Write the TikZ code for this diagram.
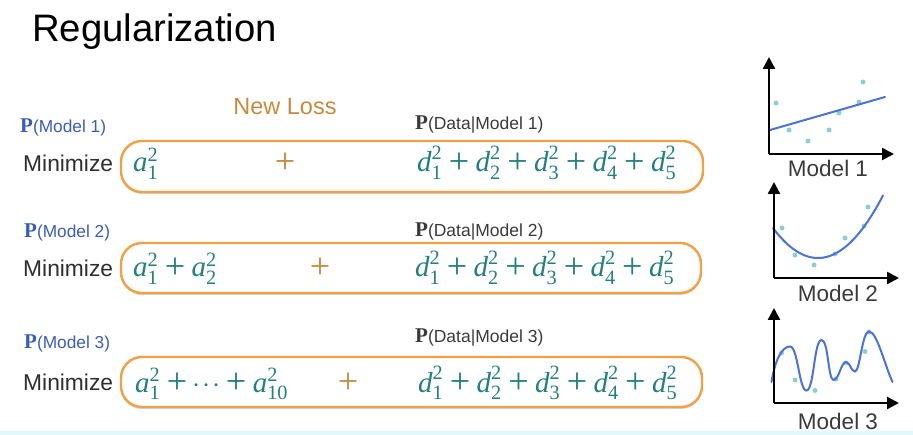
\RequirePackage{fix-cm}
\documentclass[tikz,border=0pt]{standalone}
\usepackage{amsmath}
\usepackage{graphicx}
\usepackage{fontspec}
\setsansfont{Liberation Sans}
\newfontfamily\tms{Liberation Serif}
\usetikzlibrary{arrows.meta,shadows}

\definecolor{inkgray}{HTML}{2E2E2E}
\definecolor{labgray}{HTML}{3A3A3A}
\definecolor{tealmath}{HTML}{23807C}
\definecolor{lossorange}{HTML}{F0A045}
\definecolor{lossbrown}{HTML}{C8893D}
\definecolor{priorblue}{HTML}{3C5DB5}
\definecolor{fitblue}{HTML}{4A72DA}
\definecolor{dotteal}{HTML}{8CCFD0}
\definecolor{bandcyan}{HTML}{E3F8FB}

% italic serif letter with sub- and superscript, enlarged serif plus sign
\newcommand{\sqterm}[2]{\text{\itshape #1}_{\text{#2}}^{\text{2}}}
\newcommand{\bigplus}{\raisebox{-0.06em}{\scalebox{1.25}{+}}}
\newcommand{\pl}{\mathbin{\text{\bigplus}}}
\newcommand{\dsum}{$\sqterm{d}{1}\pl\sqterm{d}{2}\pl\sqterm{d}{3}\pl\sqterm{d}{4}\pl\sqterm{d}{5}$}
\newcommand{\bigP}{{\tms\fontsize{21}{24}\selectfont\bfseries P}}

\tikzset{
  txt/.style={inner sep=0pt, anchor=base west, font=\sffamily\fontsize{22.8}{26}\selectfont, text=inkgray},
  prior/.style={inner sep=0pt, anchor=base west, font=\sffamily\fontsize{17.3}{20}\selectfont, text=priorblue},
  likeli/.style={inner sep=0pt, anchor=base west, font=\sffamily\fontsize{17.5}{20}\selectfont, text=labgray},
  mathterm/.style={inner sep=0pt, anchor=base west, font=\tms\fontsize{29}{33}\selectfont, text=tealmath},
  plusop/.style={inner sep=0pt, anchor=base, font=\tms\fontsize{29}{33}\selectfont, text=lossbrown},
  lossbox/.style={draw=lossorange, line width=2.4pt, rounded corners=21pt, fill=white,
    drop shadow={shadow xshift=0pt, shadow yshift=-2pt, opacity=0.18, fill=black}},
  axis/.style={line width=2.4pt, -{Triangle[width=12pt,length=12pt]}},
  fit/.style={draw=fitblue, line width=2pt, line cap=round},
  datum/.style={circle, fill=dotteal, inner sep=0pt, minimum size=5pt},
  plotlab/.style={inner sep=0pt, anchor=base, font=\sffamily\fontsize{22.5}{26}\selectfont, text=labgray},
}

\begin{document}
\begin{tikzpicture}[x=1pt,y=-1pt]
\useasboundingbox (0,0) rectangle (913,435);
\fill[bandcyan] (0,431) rectangle (913,435);

% title
\node[txt, font=\sffamily\fontsize{38.3}{44}\selectfont, text=black] (title) at (32,42) {Regularization};
\node[inner sep=0pt, anchor=base, font=\sffamily\fontsize{23.5}{27}\selectfont, text=lossbrown] (newloss) at (285,115) {New Loss};

% loss boxes
\draw[lossbox] (121,141) rectangle (703,192);
\draw[lossbox] (121,243) rectangle (701,293);
\draw[lossbox] (121,357) rectangle (702,407);

% row 1
\node[prior] (prior1) at (20,133) {\bigP(Model 1)};
\node[likeli] (like1) at (415,130) {\bigP(Data|Model 1)};
\node[txt] (min1) at (23,172) {Minimize};
\node[mathterm] (reg1) at (133,172) {$\sqterm{a}{1}$};
\node[plusop] (plus1) at (285,172) {\bigplus};
\node[mathterm] (data1) at (417,172) {\dsum};

% row 2
\node[prior] (prior2) at (24,238) {\bigP(Model 2)};
\node[likeli] (like2) at (415,237) {\bigP(Data|Model 2)};
\node[txt] (min2) at (23,277) {Minimize};
\node[mathterm] (reg2) at (133,277) {$\sqterm{a}{1}\pl\sqterm{a}{2}$};
\node[plusop] (plus2) at (320,277) {\bigplus};
\node[mathterm] (data2) at (415,277) {\dsum};

% row 3
\node[prior] (prior3) at (24,349) {\bigP(Model 3)};
\node[likeli] (like3) at (415,343) {\bigP(Data|Model 3)};
\node[txt] (min3) at (23,391) {Minimize};
\node[mathterm] (reg3) at (135,392) {$\sqterm{a}{1}\pl\mkern-1mu{\cdotp\mkern-1.5mu\cdotp\mkern-1.5mu\cdotp}\mkern-1mu\pl\sqterm{a}{10}$};
\node[plusop] (plus3) at (348,392) {\bigplus};
\node[mathterm] (data3) at (418,392) {\dsum};

% model 1: straight line fit
\coordinate (o1) at (769,154);
\coordinate (y1) at (769,57);
\coordinate (x1) at (894,154);
\foreach \p in {(776,103),(789,130),(808,141),(829,130),(839,113),(859,102),(863,82)}
  \node[datum] at \p {};
\draw[fit] (770,130) -- (885,97);
\draw[axis] (o1) -- (y1);
\draw[axis] (o1) -- (x1);
\node[plotlab] (lab1) at (828,177) {Model 1};

% model 2: quadratic fit
\coordinate (o2) at (774,278);
\coordinate (y2) at (774,182);
\coordinate (x2) at (899,278);
\foreach \p in {(782,228),(795,255),(814,265),(835,254),(845,238),(864,226),(868,207)}
  \node[datum] at \p {};
\draw[fit] plot[domain=773:883, samples=50] (\x, {258-0.0148*(\x-818)^2});
\draw[axis] (o2) -- (y2);
\draw[axis] (o2) -- (x2);
\node[plotlab] (lab2) at (838,302) {Model 2};

% model 3: high-degree fit, humps with level tangents at the turning points
\coordinate (o3) at (774,403);
\coordinate (y3) at (774,308);
\coordinate (x3) at (899,403);
\foreach \p in {(781.5,353),(795,380),(815,390.5),(836,379),(846,363),(865,351.5),(869,332)}
  \node[datum] at \p {};
\draw[fit] (771.5,382)
  .. controls (775,360) and (782,346.5) .. (790,346.5)
  .. controls (798,346.5) and (799,390.5) .. (806.5,390.5)
  .. controls (814,390.5) and (814,340) .. (821.5,340)
  .. controls (828.5,340) and (828,380) .. (833.5,380)
  .. controls (839,380) and (841,362) .. (846,362)
  .. controls (850,362) and (851,371.5) .. (855,371.5)
  .. controls (860,371.5) and (862,331.5) .. (869,331.5)
  .. controls (877,331.5) and (885,366) .. (892.5,382);
\draw[axis] (o3) -- (y3);
\draw[axis] (o3) -- (x3);
\node[plotlab] (lab3) at (838,429) {Model 3};
\end{tikzpicture}
\end{document}
